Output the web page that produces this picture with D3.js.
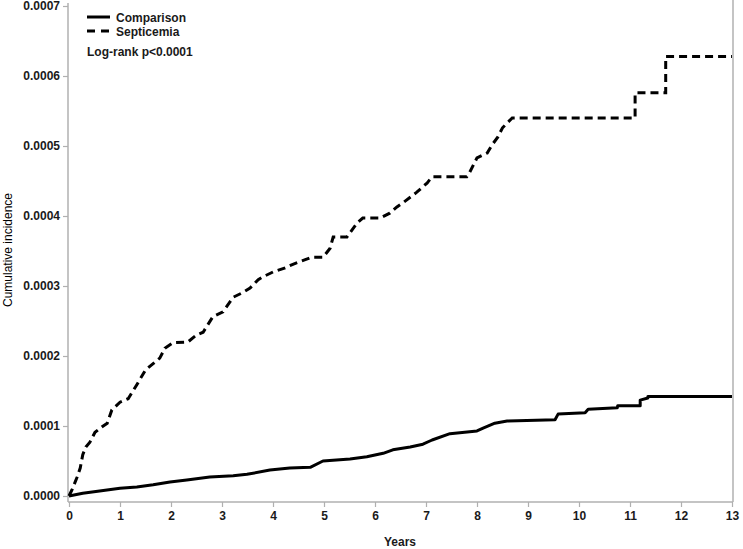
<!DOCTYPE html>
<html>
<head>
<meta charset="utf-8">
<script src="https://cdn.jsdelivr.net/npm/d3@7"></script>
<style>
  body { margin: 0; background: #fff; }
  svg { display: block; font-family: "Liberation Sans", Arial, sans-serif; }
</style>
</head>
<body>
<svg id="chart" width="743" height="549"></svg>
<script>
// years and cumulative incidence (units of 1e-4), corner points
var septicemiaYears = [0, 0.06, 0.16, 0.22, 0.27, 0.33, 0.41, 0.51, 0.65, 0.75, 0.84, 1.0, 1.16, 1.33, 1.5, 1.78, 1.88, 2.04, 2.33, 2.5, 2.63, 2.82, 3.02, 3.22, 3.39, 3.55, 3.71, 3.8, 4.0, 4.24, 4.39, 4.76, 4.98, 5.12, 5.18, 5.45, 5.65, 5.76, 6.1, 6.29, 6.43, 6.55, 6.82, 7.02, 7.12, 7.8, 7.86, 8.0, 8.2, 8.29, 8.41, 8.5, 8.69, 11.1, 11.1, 11.7, 11.7, 13];
var septicemiaValues = [0, 0.09, 0.27, 0.40, 0.59, 0.70, 0.77, 0.91, 0.99, 1.04, 1.23, 1.34, 1.39, 1.59, 1.8, 1.97, 2.11, 2.19, 2.2, 2.3, 2.34, 2.56, 2.63, 2.84, 2.9, 2.97, 3.09, 3.13, 3.2, 3.26, 3.31, 3.41, 3.41, 3.54, 3.7, 3.7, 3.9, 3.97, 3.97, 4.04, 4.13, 4.19, 4.34, 4.47, 4.56, 4.56, 4.63, 4.83, 4.9, 5.01, 5.13, 5.26, 5.4, 5.4, 5.76, 5.76, 6.28, 6.28];

var comparisonYears = [0, 0.27, 0.6, 1.0, 1.33, 1.65, 1.98, 2.31, 2.76, 3.22, 3.49, 3.94, 4.33, 4.73, 4.98, 5.51, 5.84, 6.16, 6.35, 6.69, 6.94, 7.12, 7.47, 8.0, 8.12, 8.35, 8.59, 9.53, 9.59, 10.12, 10.18, 10.75, 10.76, 11.2, 11.2, 11.35, 11.35, 13];
var comparisonValues = [0, 0.04, 0.07, 0.11, 0.13, 0.16, 0.2, 0.23, 0.27, 0.29, 0.31, 0.37, 0.40, 0.41, 0.5, 0.53, 0.56, 0.61, 0.66, 0.70, 0.74, 0.8, 0.89, 0.93, 0.97, 1.04, 1.07, 1.09, 1.17, 1.19, 1.24, 1.26, 1.29, 1.29, 1.37, 1.4, 1.42, 1.42];

var xTicks = [0, 1, 2, 3, 4, 5, 6, 7, 8, 9, 10, 11, 12, 13];
var yTicks = [0, 0.0001, 0.0002, 0.0003, 0.0004, 0.0005, 0.0006, 0.0007];
var seriesNames = ["Comparison", "Septicemia"];

var svg = d3.select("#chart");
var x = d3.scaleLinear().domain([0, 13]).range([69, 732]);
var y = d3.scaleLinear().domain([0, 0.0007]).range([496, 6]);

var axisColor = "#b0b0b0", textColor = "#1a1a1a";

// frame lines
svg.append("line").attr("x1", 68).attr("x2", 68).attr("y1", 3).attr("y2", 502)
  .attr("stroke", axisColor).attr("stroke-width", 1.5);
svg.append("line").attr("x1", 68).attr("x2", 733).attr("y1", 502).attr("y2", 502)
  .attr("stroke", axisColor).attr("stroke-width", 1.5);
svg.append("line").attr("x1", 733).attr("x2", 733).attr("y1", 0).attr("y2", 502)
  .attr("stroke", axisColor).attr("stroke-width", 1.5);

var xAxis = svg.append("g").attr("transform", "translate(0,502)")
  .call(d3.axisBottom(x).tickValues(xTicks).tickSize(5).tickSizeOuter(0).tickPadding(4));
var yAxis = svg.append("g").attr("transform", "translate(68,0)")
  .call(d3.axisLeft(y).tickValues(yTicks).tickSize(5).tickSizeOuter(0).tickPadding(3)
    .tickFormat(d3.format(".4f")));

[xAxis, yAxis].forEach(function(a) {
  a.select(".domain").remove();
  a.selectAll(".tick line").attr("stroke", axisColor).attr("stroke-width", 1.2);
  a.selectAll(".tick text").attr("fill", textColor)
    .style("font-size", "12px").style("font-weight", "bold")
    .style("font-family", "'Liberation Sans', Arial, sans-serif");
});

function toPoints(xs, vs) {
  return xs.map(function(t, i) { return [t, vs[i] * 1e-4]; });
}

var line = d3.line()
  .x(function(d) { return x(d[0]); })
  .y(function(d) { return y(d[1]); });

svg.append("path").datum(toPoints(comparisonYears, comparisonValues))
  .attr("d", line).attr("fill", "none").attr("stroke", "#000").attr("stroke-width", 3)
  .attr("stroke-linejoin", "round");

svg.append("path").datum(toPoints(septicemiaYears, septicemiaValues))
  .attr("d", line).attr("fill", "none").attr("stroke", "#000").attr("stroke-width", 3)
  .attr("stroke-dasharray", "8,5");

// legend
var legend = svg.append("g");
seriesNames.forEach(function(name, i) {
  var ly = 17 + i * 14;
  legend.append("line").attr("x1", 87).attr("x2", 110).attr("y1", ly).attr("y2", ly)
    .attr("stroke", "#000").attr("stroke-width", 3)
    .attr("stroke-dasharray", i === 1 ? "8,6" : null);
  legend.append("text").attr("x", 116).attr("y", ly + 5)
    .attr("fill", textColor).style("font-size", "12px").style("font-weight", "bold")
    .text(name);
});
legend.append("text").attr("x", 87).attr("y", 56)
  .attr("fill", textColor).style("font-size", "12px").style("font-weight", "bold")
  .text("Log-rank p<0.0001");

svg.append("text").attr("x", 400).attr("y", 546).attr("text-anchor", "middle")
  .attr("fill", textColor).style("font-size", "12px").style("font-weight", "bold")
  .text("Years");

svg.append("text").attr("transform", "translate(12,250) rotate(-90)")
  .attr("text-anchor", "middle").attr("fill", "#000")
  .style("font-size", "12px")
  .text("Cumulative incidence");
</script>
</body>
</html>
